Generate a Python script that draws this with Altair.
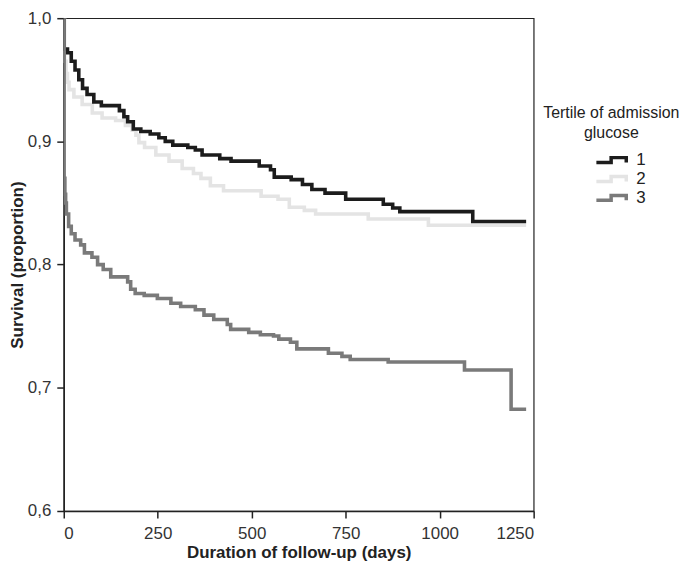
import altair as alt
import pandas as pd

# Tertile 1 (black)
t1_days = [0, 1, 10, 20, 30, 40, 50, 62, 80, 100, 148, 160, 170, 185, 205, 230, 253, 270, 290, 330, 350, 368, 415, 445, 520, 550, 560, 605, 635, 660, 695, 750, 850, 875, 894, 1088, 1230]
t1_surv = [1.0, 0.975, 0.972, 0.965, 0.958, 0.950, 0.943, 0.938, 0.932, 0.929, 0.925, 0.920, 0.916, 0.910, 0.908, 0.906, 0.903, 0.900, 0.897, 0.895, 0.893, 0.889, 0.886, 0.884, 0.880, 0.877, 0.871, 0.869, 0.865, 0.861, 0.858, 0.853, 0.849, 0.846, 0.843, 0.835, 0.835]

# Tertile 2 (light grey)
t2_days = [0, 2, 6, 10, 14, 27, 49, 76, 102, 138, 164, 182, 192, 200, 215, 245, 280, 315, 345, 365, 390, 425, 525, 570, 600, 640, 670, 810, 970, 1230]
t2_surv = [1.0, 0.965, 0.955, 0.948, 0.942, 0.936, 0.930, 0.923, 0.919, 0.917, 0.913, 0.909, 0.905, 0.899, 0.895, 0.889, 0.884, 0.878, 0.874, 0.870, 0.864, 0.860, 0.8555, 0.853, 0.8466, 0.844, 0.841, 0.837, 0.832, 0.832]

# Tertile 3 (dark grey)
t3_days = [0, 1, 3, 5, 7, 13, 20, 30, 45, 55, 75, 90, 105, 125, 170, 178, 190, 214, 249, 285, 311, 350, 373, 399, 435, 444, 492, 523, 558, 572, 603, 620, 704, 740, 762, 863, 1066, 1190, 1230]
t3_surv = [1.0, 0.870, 0.857, 0.850, 0.841, 0.831, 0.825, 0.820, 0.816, 0.8095, 0.806, 0.800, 0.796, 0.790, 0.786, 0.780, 0.7765, 0.775, 0.7725, 0.7686, 0.766, 0.7633, 0.759, 0.7554, 0.7514, 0.7474, 0.745, 0.743, 0.742, 0.7395, 0.737, 0.7316, 0.728, 0.7255, 0.723, 0.721, 0.7144, 0.6826, 0.6826]

tertiles = ["1", "2", "3"]
colors = ["#1c1c1c", "#e4e4e4", "#7a7a7a"]
x_ticks = [0, 250, 500, 750, 1000, 1250]
y_ticks = [0.6, 0.7, 0.8, 0.9, 1.0]

frames = []
for name, d, s in zip(tertiles, [t1_days, t2_days, t3_days], [t1_surv, t2_surv, t3_surv]):
    frames.append(pd.DataFrame({"days": d, "surv": s, "tertile": name}))
df = pd.concat(frames, ignore_index=True)

FONT = "Liberation Sans"
# step-shaped legend symbol, drawn to the right of its anchor
step_path = "M1.88,0.4 H4.3 V-0.4 H6.78 V0.4"

color = alt.Color(
    "tertile:N",
    scale=alt.Scale(domain=tertiles, range=colors),
    legend=alt.Legend(
        title=["Tertile of admission", "glucose"],
        orient="none",
        legendX=482,
        legendY=87,
        titleAnchor="middle",
        titleAlign="center",
        titleFontWeight="normal",
        titleFontSize=16,
        titleFont=FONT,
        titleColor="#222222",
        titleLineHeight=20,
        titlePadding=11,
        titleLimit=300,
        labelFontSize=17,
        labelFont=FONT,
        labelColor="#222222",
        labelOffset=43,
        symbolType=step_path,
        symbolSize=150,
        symbolStrokeWidth=3.5,
        symbolFillColor="transparent",
        rowPadding=0,
    ),
)

x = alt.X(
    "days:Q",
    scale=alt.Scale(domain=[0, 1250], nice=False),
    axis=alt.Axis(values=x_ticks, format="d", title="Duration of follow-up (days)"),
)
y = alt.Y(
    "surv:Q",
    scale=alt.Scale(domain=[0.6, 1.0], nice=False, zero=False),
    axis=alt.Axis(
        values=y_ticks,
        labelExpr="replace(format(datum.value, '.1f'), '.', ',')",
        title="Survival (proportion)",
    ),
)

def series(name):
    return (
        alt.Chart(df)
        .transform_filter(alt.datum.tertile == name)
        .mark_line(interpolate="step-after", strokeWidth=3.6, clip=True)
        .encode(x=x, y=y, color=color)
    )

chart = (
    alt.layer(series("2"), series("1"), series("3"))
    .properties(width=472, height=495, padding=0)
    .configure_view(stroke="#222222", strokeWidth=1.2)
    .configure_axis(
        grid=False,
        domainColor="#222222",
        domainWidth=1.5,
        tickColor="#222222",
        tickWidth=1.5,
        tickSize=7,
        labelFont=FONT,
        labelFontSize=17,
        labelColor="#333333",
        titleFont=FONT,
        titleFontSize=17,
        titleFontWeight="bold",
        titleColor="#222222",
    )
    .configure_axisY(titlePadding=1, labelPadding=6)
    .configure_axisX(titlePadding=3, labelPadding=8)
)

chart.save("out.html", embed_options={"renderer": "svg", "actions": False})
